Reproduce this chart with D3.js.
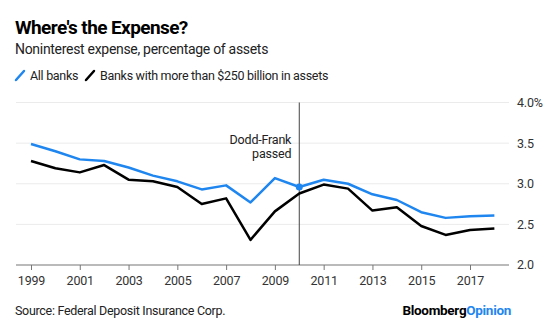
<!DOCTYPE html>
<html>
<head>
<meta charset="utf-8">
<script src="https://cdn.jsdelivr.net/npm/d3@7"></script>
<style>
  body { margin: 0; background: #fff; }
  svg { font-family: Roboto, "Liberation Sans", Arial, sans-serif; }
</style>
</head>
<body>
<svg id="chart" width="560" height="325"></svg>
<script>
const years = d3.range(1999, 2019);
const allBanks = [3.49, 3.40, 3.30, 3.28, 3.20, 3.10, 3.03, 2.93, 2.98, 2.77,
  3.07, 2.96, 3.05, 3.00, 2.87, 2.80, 2.65, 2.58, 2.60, 2.61];
const bigBanks = [3.28, 3.19, 3.14, 3.23, 3.05, 3.03, 2.96, 2.75, 2.82, 2.31,
  2.66, 2.88, 2.99, 2.94, 2.67, 2.71, 2.48, 2.37, 2.43, 2.45];
const xTicks = [1999, 2001, 2003, 2005, 2007, 2009, 2011, 2013, 2015, 2017];
const yTicks = [2.0, 2.5, 3.0, 3.5, 4.0];
const eventYear = 2010;

const blue = "#1f86f0";
const svg = d3.select("#chart");

const x = d3.scaleLinear().domain([1999, 2017]).range([31, 470]);
const y = d3.scaleLinear().domain([2, 4]).range([265, 102.5]);
const left = 16, right = 509;

// title block
svg.append("text").attr("x", 15).attr("y", 34)
  .attr("font-size", 19).attr("font-weight", "bold").attr("fill", "#000")
  .attr("letter-spacing", -0.6)
  .text("Where's the Expense?");
svg.append("text").attr("x", 15).attr("y", 54)
  .attr("font-size", 14).attr("fill", "#222").attr("letter-spacing", -0.3)
  .text("Noninterest expense, percentage of assets");

// legend
const legend = [
  { label: "All banks", color: blue, x: 15 },
  { label: "Banks with more than $250 billion in assets", color: "#000", x: 85 }
];
legend.forEach(d => {
  svg.append("line")
    .attr("x1", d.x + 1).attr("y1", 80).attr("x2", d.x + 9).attr("y2", 71)
    .attr("stroke", d.color).attr("stroke-width", 2.5).attr("stroke-linecap", "round");
  svg.append("text").attr("x", d.x + 15).attr("y", 80)
    .attr("font-size", 12.5).attr("fill", "#222").attr("letter-spacing", -0.3)
    .text(d.label);
});

// grid
svg.append("g").selectAll("line")
  .data(yTicks.filter(v => v > 2))
  .join("line")
  .attr("x1", left).attr("x2", right)
  .attr("y1", d => y(d)).attr("y2", d => y(d))
  .attr("stroke", "#ebebeb").attr("stroke-width", 1);

// y labels
svg.append("g").selectAll("text")
  .data(yTicks)
  .join("text")
  .attr("x", 517).attr("y", d => y(d)).attr("dy", "0.35em")
  .attr("font-size", 12.5).attr("fill", "#333").attr("letter-spacing", -0.2)
  .text(d => d === 4 ? d.toFixed(1) + "%" : d.toFixed(1));

// x axis
const xAxis = svg.append("g")
  .attr("transform", `translate(0,${y(2)})`)
  .call(d3.axisBottom(x).tickValues(xTicks).tickFormat(d3.format("d")).tickSize(5).tickPadding(6));
xAxis.select(".domain").remove();
xAxis.selectAll(".tick line").attr("stroke", "#777");
xAxis.selectAll(".tick text").attr("font-size", 12.5).attr("fill", "#333")
  .attr("letter-spacing", -0.2)
  .attr("font-family", "Roboto, Liberation Sans, Arial, sans-serif");
svg.append("line")
  .attr("x1", left).attr("x2", right).attr("y1", y(2)).attr("y2", y(2))
  .attr("stroke", "#777").attr("stroke-width", 1.2);

// event line
svg.append("line")
  .attr("x1", x(eventYear)).attr("x2", x(eventYear))
  .attr("y1", y(4)).attr("y2", y(2))
  .attr("stroke", "#444").attr("stroke-width", 1);
svg.append("text").attr("x", x(eventYear) - 8).attr("y", 144)
  .attr("text-anchor", "end").attr("font-size", 12.5).attr("fill", "#222")
  .attr("letter-spacing", -0.2).text("Dodd-Frank");
svg.append("text").attr("x", x(eventYear) - 8).attr("y", 158)
  .attr("text-anchor", "end").attr("font-size", 12.5).attr("fill", "#222")
  .attr("letter-spacing", -0.2).text("passed");

// lines
const line = d3.line().x((d, i) => x(years[i])).y(d => y(d));
svg.append("path").datum(bigBanks)
  .attr("fill", "none").attr("stroke", "#000").attr("stroke-width", 2.5)
  .attr("stroke-linejoin", "round").attr("d", line);
svg.append("path").datum(allBanks)
  .attr("fill", "none").attr("stroke", blue).attr("stroke-width", 2.5)
  .attr("stroke-linejoin", "round").attr("d", line);

const ei = years.indexOf(eventYear);
svg.append("circle")
  .attr("cx", x(eventYear)).attr("cy", y(allBanks[ei])).attr("r", 3.5)
  .attr("fill", blue);

// footer
svg.append("text").attr("x", 15).attr("y", 315)
  .attr("font-size", 12.5).attr("fill", "#222").attr("letter-spacing", -0.3)
  .text("Source: Federal Deposit Insurance Corp.");
const brand = svg.append("text").attr("x", 511).attr("y", 315)
  .attr("text-anchor", "end").attr("font-size", 13.5).attr("font-weight", "bold")
  .attr("letter-spacing", -0.3);
brand.append("tspan").attr("fill", "#000").text("Bloomberg");
brand.append("tspan").attr("fill", blue).text("Opinion");
</script>
</body>
</html>
